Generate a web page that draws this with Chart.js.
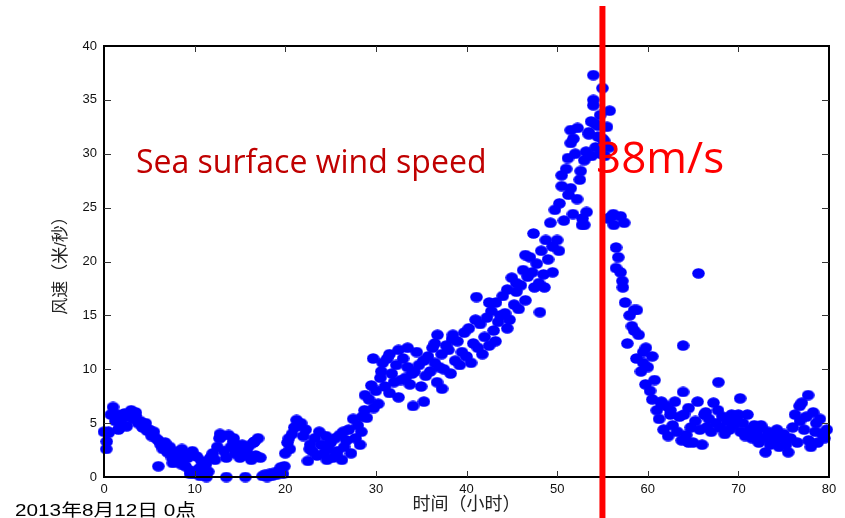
<!DOCTYPE html>
<html>
<head>
<meta charset="utf-8">
<script src="https://cdn.jsdelivr.net/npm/chart.js@4.4.1/dist/chart.umd.min.js"></script>
<style>
  html, body { margin: 0; padding: 0; background: #fff; }
  canvas { display: block; }
</style>
</head>
<body>
<canvas id="windChart" width="845" height="518"></canvas>
<script>
// wind speed samples, every 15 min, one array per 10-hour block
const sampleStep = 0.25;
const speed0to10 = [
  4.2, 2.6, 4.1, 5.8,  6.5, 5.2, 5.8, 4.6,  5.4, 5.9, 4.7, 5.6,  6.2, 5.4, 5.7, 5.0,
  5.2, 4.6, 4.8, 4.3,  4.4, 3.8, 4.2, 3.6,  3.4, 3.0, 2.6, 3.2,  2.3, 2.8, 1.8, 2.2,
  1.5, 2.4, 1.2, 2.0,  1.0, 1.8, 0.6, 2.4
];
const speed10to20 = [
  0.3, 1.9, 0.8, 1.5,  0.2, 1.2, 0.5, 1.8,  2.2, 1.6, 2.8, 3.6,  3.8, 2.4, 1.8, 3.9,
  2.8, 3.3, 2.2, 2.6,  1.8, 3.0, 2.0, 2.4,  2.9, 1.6, 3.2, 2.0,  3.6, 1.8, 0.1, 0.2,
  0.0, 0.3, 0.1, 0.4,  0.2, 0.5, 0.9, 0.3
];
const speed20to30 = [
  2.2, 3.2, 2.6, 4.0,  4.6, 5.3, 4.8, 5.0,  3.8, 4.4, 1.5, 3.0,  2.4, 3.6, 2.0, 4.2,
  3.0, 2.2, 3.8, 2.6,  3.2, 1.8, 3.6, 2.4,  3.9, 1.6, 2.8, 3.4,  4.4, 2.2, 5.4, 3.6,
  4.8, 3.0, 5.6, 6.2,  5.5, 7.2, 8.5, 6.4
];
const speed30to40 = [
  8.0, 6.8, 9.2, 10.6,  8.4, 11.0, 7.8, 9.6,  8.8, 10.4, 7.4, 9.0,  11.0, 9.2, 10.2, 8.6,
  9.6, 9.8, 11.6, 10.4,  8.4, 10.8, 9.4, 11.2,  9.8, 12.0, 10.6, 8.8,  10.2, 11.4, 10.0, 12.2,
  11.8, 9.6, 13.2, 10.8,  12.6, 10.4, 11.6, 13.4
];
const speed40to50 = [
  11.2, 13.8, 10.6, 12.4,  14.6, 12.0, 14.2, 11.4,  13.0, 14.8, 12.2, 15.4,  13.6, 16.2, 14.4, 15.0,
  16.8, 15.2, 17.4, 14.6,  18.5, 16.0, 17.2, 15.6,  17.8, 19.2, 16.4, 18.6,  20.4, 19.0, 17.6, 19.8,
  18.0, 21.0, 18.8, 22.0,  20.2, 23.6, 21.4, 24.8
];
const speed50to60 = [
  22.0, 25.4, 27.0, 23.8,  28.6, 26.2, 31.0, 24.4,  30.0, 32.4, 27.6, 23.4,  29.4, 24.6, 31.8, 33.0,
  35.0, 30.6, 32.6, 33.6,  31.4, 29.8, 32.5, 30.6,  24.2, 23.4, 21.3, 20.4,  19.0, 17.6, 16.2, 12.4,
  15.0, 14.0, 15.5, 11.0,  13.2, 9.8, 11.6, 8.6
];
const speed60to70 = [
  10.2, 8.0, 7.2, 9.0,  6.2, 5.4, 7.0, 4.4,  6.6, 3.8, 5.8, 4.8,  7.0, 4.2, 5.6, 3.4,
  5.8, 3.9, 6.4, 4.6,  3.2, 5.2, 7.0, 4.4,  3.0, 5.8, 4.6, 5.4,  4.2, 6.9, 5.0, 6.2,
  4.6, 5.6, 4.0, 5.2,  4.4, 5.8, 4.8, 5.4
];
const speed70to80 = [
  5.8, 4.2, 5.0, 3.8,  5.8, 4.4, 3.6, 4.8,  4.0, 3.2, 4.6, 3.6,  2.3, 4.2, 3.0, 3.8,
  3.4, 4.4, 2.8, 3.6,  4.0, 3.0, 2.3, 3.6,  4.6, 5.8, 3.2, 6.6,  6.9, 4.4, 5.6, 3.4,
  2.8, 6.0, 4.2, 3.2,  5.4, 4.0, 3.6, 4.4
];
const speedBlocks = [speed0to10, speed10to20, speed20to30, speed30to40,
                     speed40to50, speed50to60, speed60to70, speed70to80];

// scattered readings in between the regular samples
const extraHours = [
  6.0, 0.3, 0.5, 1.6, 3.5, 7.6, 8.6, 9.5, 4.6,
  13.5, 15.6, 12.8, 10.6, 11.3, 14.3, 16.6,
  19.9, 20.4, 22.7, 24.6, 25.6, 26.4, 28.4, 29.7, 28.8,
  34.1, 35.3, 37.3, 31.5, 32.5, 33.5, 36.5, 38.4, 30.6, 36.8,
  41.1, 47.4, 48.1, 44.5, 43.2, 42.5, 45.5, 46.5, 48.6, 49.5,
  54.0, 55.0, 54.0, 55.8, 50.5, 51.2, 51.5, 51.8, 52.2, 52.6, 52.8, 53.2, 53.5, 53.8,
  54.2, 54.5, 54.8, 55.2, 55.6, 56.2, 57.0, 57.4, 56.5, 57.2, 58.5, 58.8, 59.5, 50.2, 53.0, 51.5,
  63.9, 65.6, 63.9, 67.8, 60.5, 59.8, 61.5, 62.5, 64.5, 66.4,
  70.2, 77.7, 72.5, 74.5, 76.8, 78.6
];
const extraSpeeds = [
  1.0, 3.3, 4.2, 4.4, 6.0, 1.3, 2.6, 0.3, 5.0,
  0.0, 0.0, 4.0, 0.1, 0.0, 3.6, 3.3,
  1.0, 3.6, 2.6, 1.6, 2.0, 4.2, 4.2, 11.0, 7.6,
  6.6, 7.0, 8.2, 11.4, 11.8, 12.0, 12.4, 12.8, 9.8, 13.2,
  16.7, 22.6, 15.3, 13.8, 12.6, 16.2, 18.0, 20.6, 17.6, 19.0,
  37.3, 36.1, 34.5, 34.0, 28.0, 29.6, 32.2, 31.4, 25.8, 28.4, 24.0, 30.2, 32.0, 29.8,
  32.8, 31.6, 30.0, 31.2, 24.0, 24.4, 24.2, 23.6, 19.4, 18.2, 13.6, 15.5, 10.6, 21.0, 23.4, 26.8,
  12.2, 18.9, 7.9, 8.8, 11.2, 12.0, 6.8, 6.2, 3.2, 6.0,
  7.3, 7.6, 4.8, 4.0, 5.2, 5.0
];

const peakHour = 55;          // red marker line
const xTickStep = 10;
const yTickStep = 5;

const points = [];
speedBlocks.forEach((block, b) => {
  block.forEach((v, i) => points.push({ x: b * 10 + i * sampleStep, y: v }));
});
extraHours.forEach((h, i) => points.push({ x: h, y: extraSpeeds[i] }));

// elliptic marker like the original plot
const marker = document.createElement('canvas');
marker.width = 13;
marker.height = 11;
const mctx = marker.getContext('2d');
mctx.fillStyle = '#0000ff';
mctx.beginPath();
mctx.ellipse(6.5, 5.5, 6.3, 5.3, 0, 0, Math.PI * 2);
mctx.fill();

const cjk = '"Liberation Sans", "Noto Sans CJK SC", sans-serif';

const decorPlugin = {
  id: 'decor',
  afterDatasetsDraw(chart) {
    const { ctx, chartArea: a, scales: { x, y } } = chart;
    ctx.save();

    // box + inward ticks
    ctx.strokeStyle = '#000';
    ctx.lineWidth = 2;
    ctx.strokeRect(a.left, a.top, a.right - a.left, a.bottom - a.top);
    ctx.lineWidth = 1;
    ctx.strokeStyle = '#333';
    ctx.beginPath();
    for (let v = x.min + xTickStep; v < x.max; v += xTickStep) {
      const px = Math.round(x.getPixelForValue(v)) + 0.5;
      ctx.moveTo(px, a.bottom); ctx.lineTo(px, a.bottom - 6);
      ctx.moveTo(px, a.top); ctx.lineTo(px, a.top + 6);
    }
    for (let v = y.min + yTickStep; v < y.max; v += yTickStep) {
      const py = Math.round(y.getPixelForValue(v)) + 0.5;
      ctx.moveTo(a.left, py); ctx.lineTo(a.left + 7, py);
      ctx.moveTo(a.right, py); ctx.lineTo(a.right - 7, py);
    }
    ctx.stroke();

    // annotations
    ctx.fillStyle = '#c00000';
    ctx.font = '32px "Open Sans", sans-serif';
    ctx.textBaseline = 'alphabetic';
    ctx.fillText('Sea surface wind speed', 136, 173);
    ctx.fillStyle = '#ff0000';
    ctx.font = '44px "Open Sans", sans-serif';
    ctx.fillText('38m/s', 596, 173);

    // peak line
    const lx = x.getPixelForValue(peakHour);
    ctx.strokeStyle = '#ff0000';
    ctx.lineWidth = 6;
    ctx.beginPath();
    ctx.moveTo(lx, 6);
    ctx.lineTo(lx, chart.height);
    ctx.stroke();

    // start time note
    ctx.fillStyle = '#000';
    ctx.font = '17px ' + cjk;
    ctx.translate(15, 516);
    ctx.scale(1.22, 1);
    ctx.fillText('2013年8月12日 0点', 0, 0);
    ctx.restore();
  }
};

new Chart(document.getElementById('windChart'), {
  type: 'scatter',
  data: {
    datasets: [{
      data: points,
      pointStyle: marker,
      pointRadius: 6,
      pointHoverRadius: 6,
      clip: false
    }]
  },
  options: {
    responsive: false,
    animation: false,
    layout: { padding: { top: 46, right: 16, bottom: 0, left: 0 } },
    plugins: { legend: { display: false }, tooltip: { enabled: false } },
    scales: {
      x: {
        type: 'linear',
        min: 0,
        max: 80,
        grid: { display: false, drawTicks: false },
        border: { display: false },
        ticks: { stepSize: xTickStep, padding: 5, color: '#111', font: { family: cjk, size: 13 } },
        title: {
          display: true,
          text: '时间（小时）',
          color: '#222',
          font: { family: cjk, size: 18 },
          padding: { top: 0, bottom: 2 }
        },
        afterFit(scale) { scale.height = 41; }
      },
      y: {
        min: 0,
        max: 40,
        grid: { display: false, drawTicks: false },
        border: { display: false },
        ticks: { stepSize: yTickStep, padding: 7, color: '#111', font: { family: cjk, size: 13 } },
        title: {
          display: true,
          text: '风速（米/秒）',
          color: '#222',
          font: { family: cjk, size: 17 },
          padding: { top: 51, bottom: 0 }
        },
        afterFit(scale) { scale.width = 104; }
      }
    }
  },
  plugins: [decorPlugin]
});
</script>
</body>
</html>
